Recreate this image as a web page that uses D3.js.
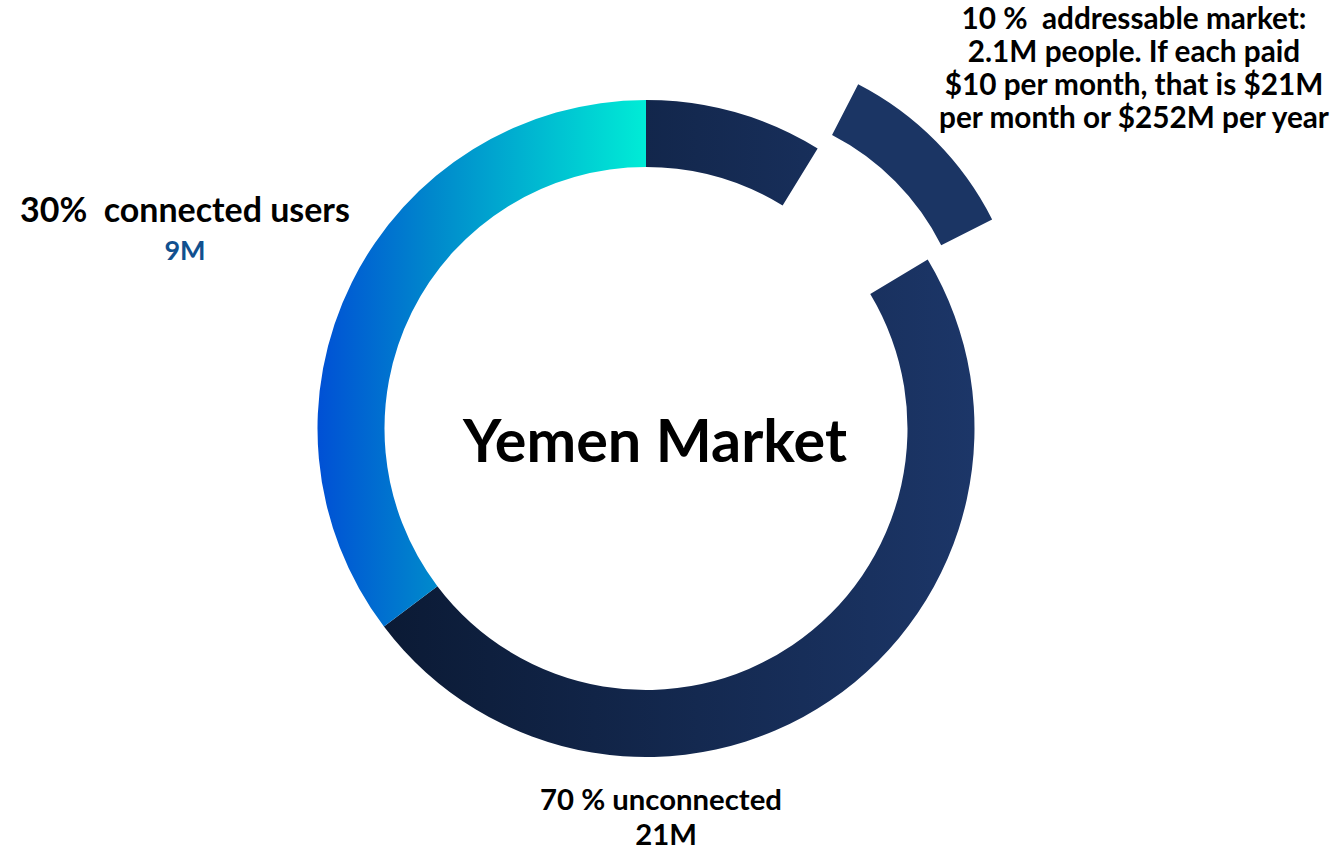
<!DOCTYPE html>
<html>
<head>
<meta charset="utf-8">
<script src="https://cdn.jsdelivr.net/npm/d3@7"></script>
<style>
  html, body { margin: 0; padding: 0; background: #fff; }
  svg { display: block; font-family: Lato, "Open Sans", sans-serif; font-weight: 700; }
</style>
</head>
<body>
<div id="chart"></div>
<script>
(function(){
// --- Data (shares of the ring) ---
const sliceNames = ["Unconnected (top)", "Addressable market", "Unconnected", "Connected users"];
const sliceShares = [8.75, 7.65, 48.3, 35.3];   // percent of full circle, clockwise from 12 o'clock
const addressableShare = 10;                      // exploded piece, percent of circle
const leftLabel = ["30%  connected users", "9M"];
const rightLabel = ["10 %  addressable market:", "2.1M people. If each paid", "$10 per month, that is $21M", "per month or $252M per year"];
const bottomLabel = ["70 % unconnected", "21M"];
const centerTitle = "Yemen Market";

// --- Setup ---
const width = 1340, height = 854;
const cx = 646, cy = 428.5;
const rOuter = 328.5, rInner = 261.5;

const svg = d3.select("#chart").append("svg")
    .attr("width", width)
    .attr("height", height);

const defs = svg.append("defs");

// gradient coords are in the ring group's space (origin = ring centre)
const blueGrad = defs.append("linearGradient")
    .attr("id", "blueGrad")
    .attr("gradientUnits", "userSpaceOnUse")
    .attr("x1", -rOuter).attr("x2", 0).attr("y1", 0).attr("y2", 0);
blueGrad.append("stop").attr("offset", "0%").attr("stop-color", "#0050d5");
blueGrad.append("stop").attr("offset", "35%").attr("stop-color", "#0088cc");
blueGrad.append("stop").attr("offset", "100%").attr("stop-color", "#00ecd6");

const darkGrad = defs.append("linearGradient")
    .attr("id", "darkGrad")
    .attr("gradientUnits", "userSpaceOnUse")
    .attr("x1", -rOuter).attr("x2", rOuter).attr("y1", 0).attr("y2", 0);
darkGrad.append("stop").attr("offset", "0%").attr("stop-color", "#09172f");
darkGrad.append("stop").attr("offset", "100%").attr("stop-color", "#1c3668");

const fills = ["url(#darkGrad)", "none", "url(#darkGrad)", "url(#blueGrad)"];

// --- Ring ---
const pie = d3.pie().sort(null).value(d => d).startAngle(0).endAngle(2 * Math.PI);
const arcs = pie(sliceShares);
const arc = d3.arc().innerRadius(rInner).outerRadius(rOuter);

const ring = svg.append("g").attr("transform", `translate(${cx},${cy})`);

ring.selectAll("path.slice")
    .data(arcs)
    .join("path")
    .attr("class", "slice")
    .attr("d", arc)
    .attr("fill", (d, i) => fills[i]);

// --- Exploded addressable piece ---
const gap = arcs[1];
const mid = (gap.startAngle + gap.endAngle) / 2;
const half = Math.PI * addressableShare / 100;
const explode = 100;
const pieceArc = d3.arc().innerRadius(251).outerRadius(308);

ring.append("path")
    .attr("transform", `translate(${explode * Math.sin(mid)},${-explode * Math.cos(mid)})`)
    .attr("d", pieceArc({ startAngle: mid - half, endAngle: mid + half }))
    .attr("fill", "#1b3564");

// --- Labels ---
function fitText(sel, target) {
    const w = sel.node().getComputedTextLength();
    const fs = parseFloat(sel.style("font-size"));
    const nfs = fs * target / w;
    sel.style("font-size", nfs + "px");
    return nfs;
}

const title = svg.append("text")
    .attr("x", 655).attr("y", 462)
    .attr("text-anchor", "middle")
    .style("font-size", "58px")
    .attr("fill", "#000")
    .text(centerTitle);
fitText(title, 384);

const l1 = svg.append("text")
    .attr("x", 185).attr("y", 222)
    .attr("text-anchor", "middle")
    .style("font-size", "31px")
    .style("white-space", "pre")
    .attr("fill", "#000")
    .text(leftLabel[0]);
fitText(l1, 330);

svg.append("text")
    .attr("x", 185).attr("y", 260)
    .attr("text-anchor", "middle")
    .style("font-size", "27px")
    .attr("fill", "#11508f")
    .text(leftLabel[1]);

const rightTexts = rightLabel.map((t, i) => svg.append("text")
    .attr("x", 1134).attr("y", 29 + i * 33)
    .attr("text-anchor", "middle")
    .style("font-size", "27px")
    .style("white-space", "pre")
    .attr("fill", "#000")
    .text(t));
const rightSize = fitText(rightTexts[3], 390);
rightTexts.forEach(s => s.style("font-size", rightSize + "px"));

const b1 = svg.append("text")
    .attr("x", 661).attr("y", 810)
    .attr("text-anchor", "middle")
    .style("font-size", "28px")
    .attr("fill", "#000")
    .text(bottomLabel[0]);
const bottomSize = fitText(b1, 242);

svg.append("text")
    .attr("x", 666).attr("y", 845)
    .attr("text-anchor", "middle")
    .style("font-size", bottomSize + "px")
    .attr("fill", "#000")
    .text(bottomLabel[1]);
})();
</script>
</body>
</html>
